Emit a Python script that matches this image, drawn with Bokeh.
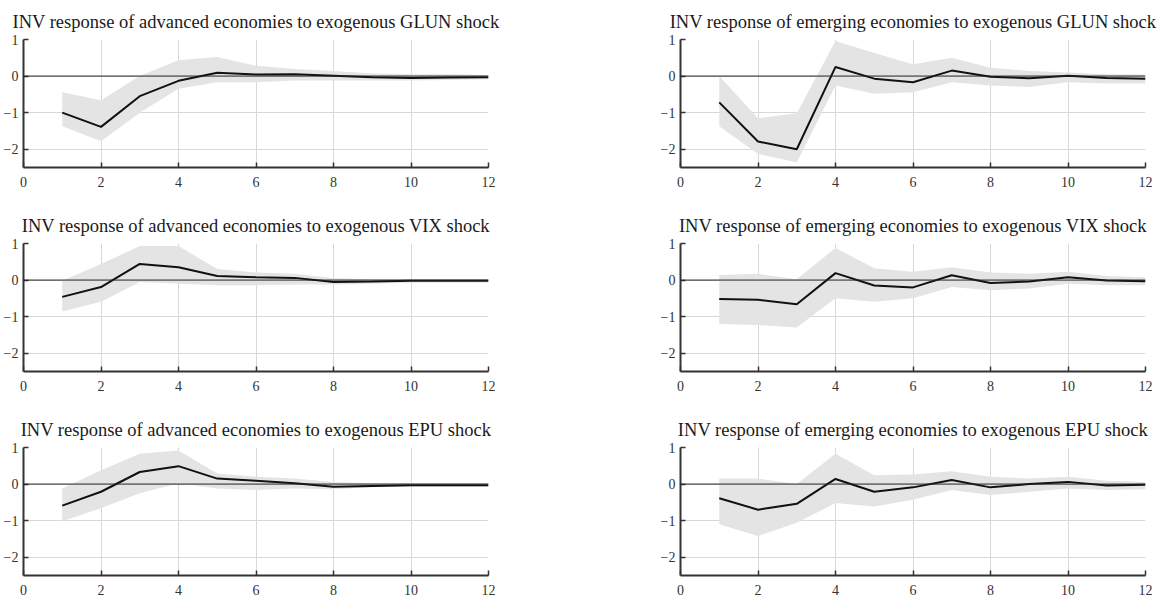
from bokeh.plotting import figure
from bokeh.layouts import column, row
from bokeh.models import FixedTicker, Span
from bokeh.embed import file_html
from bokeh.resources import INLINE

# Horizons (quarters after the shock)
horizons = [1, 2, 3, 4, 5, 6, 7, 8, 9, 10, 11, 12]
x_ticks = [0, 2, 4, 6, 8, 10, 12]
y_ticks = [-2, -1, 0, 1]

# Advanced economies, GLUN shock
adv_glun = [-1.00, -1.39, -0.55, -0.13, 0.09, 0.04, 0.05, 0.01, -0.03, -0.05, -0.04, -0.03]
adv_glun_hi = [-0.44, -0.66, 0.00, 0.43, 0.52, 0.28, 0.19, 0.14, 0.07, 0.05, 0.05, 0.03]
adv_glun_lo = [-1.37, -1.78, -1.00, -0.35, -0.17, -0.17, -0.12, -0.12, -0.12, -0.12, -0.11, -0.09]

# Emerging economies, GLUN shock
emg_glun = [-0.72, -1.79, -2.00, 0.25, -0.07, -0.17, 0.15, -0.02, -0.06, 0.01, -0.05, -0.07]
emg_glun_hi = [0.00, -1.15, -1.02, 0.96, 0.63, 0.32, 0.50, 0.23, 0.14, 0.10, 0.05, 0.04]
emg_glun_lo = [-1.37, -2.13, -2.36, -0.26, -0.48, -0.44, -0.17, -0.26, -0.30, -0.17, -0.20, -0.20]

# Advanced economies, VIX shock
adv_vix = [-0.46, -0.19, 0.44, 0.35, 0.11, 0.08, 0.06, -0.05, -0.04, -0.02, -0.02, -0.02]
adv_vix_hi = [-0.02, 0.44, 0.93, 0.93, 0.30, 0.21, 0.17, 0.05, 0.02, 0.02, 0.02, 0.02]
adv_vix_lo = [-0.86, -0.59, -0.05, -0.10, -0.14, -0.14, -0.12, -0.12, -0.10, -0.07, -0.07, -0.07]

# Emerging economies, VIX shock
emg_vix = [-0.52, -0.54, -0.66, 0.19, -0.15, -0.20, 0.13, -0.08, -0.04, 0.08, -0.01, -0.03]
emg_vix_hi = [0.14, 0.17, 0.02, 0.88, 0.32, 0.23, 0.35, 0.21, 0.17, 0.23, 0.11, 0.08]
emg_vix_lo = [-1.20, -1.23, -1.30, -0.50, -0.59, -0.50, -0.19, -0.28, -0.23, -0.10, -0.14, -0.14]

# Advanced economies, EPU shock
adv_epu = [-0.59, -0.21, 0.33, 0.49, 0.15, 0.09, 0.02, -0.07, -0.05, -0.03, -0.03, -0.03]
adv_epu_hi = [-0.12, 0.38, 0.83, 0.92, 0.29, 0.20, 0.15, 0.06, 0.02, 0.02, 0.02, 0.02]
adv_epu_lo = [-1.02, -0.66, -0.25, 0.02, -0.12, -0.16, -0.12, -0.14, -0.09, -0.07, -0.07, -0.07]

# Emerging economies, EPU shock
emg_epu = [-0.39, -0.70, -0.54, 0.14, -0.21, -0.09, 0.11, -0.09, 0.00, 0.06, -0.04, -0.02]
emg_epu_hi = [0.15, 0.15, 0.00, 0.83, 0.24, 0.26, 0.35, 0.20, 0.15, 0.20, 0.09, 0.06]
emg_epu_lo = [-1.10, -1.42, -1.06, -0.52, -0.61, -0.43, -0.16, -0.30, -0.21, -0.12, -0.16, -0.14]

SERIF = "Liberation Serif"


def irf_panel(title, resp, lo, hi, left, bottom_border, width, right_border):
    p = figure(width=width, height=39 + 128 + bottom_border,
               x_range=(0, 12), y_range=(-2.5, 1),
               output_backend="svg", toolbar_location=None,
               min_border_left=left, min_border_right=right_border,
               min_border_top=39, min_border_bottom=bottom_border,
               title=title)
    p.title.text_font = SERIF
    p.title.text_font_style = "normal"
    p.title.text_font_size = "18.5px"
    p.title.text_color = "#1a1a1a"
    p.title.align = "center"
    p.title.standoff = 15

    p.outline_line_color = None
    p.background_fill_color = "white"

    p.varea(x=horizons, y1=lo, y2=hi, fill_color="#e4e4e4", fill_alpha=1.0)
    p.add_layout(Span(location=0, dimension="width", line_color="#222222", line_width=1))
    p.line(horizons, resp, line_color="#111111", line_width=2)

    for ax, ticks in ((p.xaxis[0], x_ticks), (p.yaxis[0], y_ticks)):
        ax.ticker = FixedTicker(ticks=ticks)
        ax.axis_line_color = "#333333"
        ax.axis_line_width = 2
        ax.major_tick_in = 5
        ax.major_tick_out = 0
        ax.major_tick_line_color = "#333333"
        ax.major_tick_line_width = 1.5
        ax.minor_tick_line_color = None
        ax.major_label_text_font = SERIF
        ax.major_label_text_font_size = "14px"
        ax.major_label_text_color = "#333333"
    p.xaxis.major_label_standoff = 9
    p.yaxis.major_label_standoff = 5

    p.xgrid.ticker = FixedTicker(ticks=x_ticks)
    p.ygrid.ticker = FixedTicker(ticks=y_ticks)
    p.grid.grid_line_color = "#d8d8d8"
    p.grid.grid_line_width = 1
    return p


panels = [
    ("INV response of advanced economies to exogenous GLUN shock", adv_glun, adv_glun_lo, adv_glun_hi,
     "INV response of emerging economies to exogenous GLUN shock", emg_glun, emg_glun_lo, emg_glun_hi),
    ("INV response of advanced economies to exogenous VIX shock", adv_vix, adv_vix_lo, adv_vix_hi,
     "INV response of emerging economies to exogenous VIX shock", emg_vix, emg_vix_lo, emg_vix_hi),
    ("INV response of advanced economies to exogenous EPU shock", adv_epu, adv_epu_lo, adv_epu_hi,
     "INV response of emerging economies to exogenous EPU shock", emg_epu, emg_epu_lo, emg_epu_hi),
]

rows = []
for i, (t1, r1, l1, h1, t2, r2, l2, h2) in enumerate(panels):
    bottom = 37 if i < 2 else 33
    left_fig = irf_panel(t1, r1, l1, h1, left=20, bottom_border=bottom, width=657, right_border=169)
    right_fig = irf_panel(t2, r2, l2, h2, left=20, bottom_border=bottom, width=508, right_border=20)
    rows.append(row(left_fig, right_fig))

page = column(*rows)

with open("out.html", "w") as f:
    f.write(file_html(page, INLINE))
